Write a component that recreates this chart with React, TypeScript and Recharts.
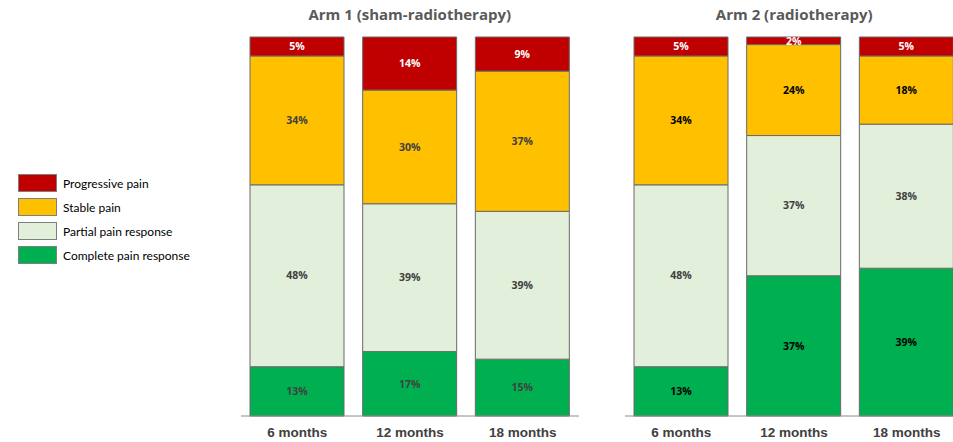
import { BarChart, Bar, XAxis, YAxis, LabelList } from "recharts";

const periods = ["6 months", "12 months", "18 months"];

// Arm 1 (sham-radiotherapy), % of patients
const arm1Progressive = [5, 14, 9];
const arm1Stable = [34, 30, 37];
const arm1Partial = [48, 39, 39];
const arm1Complete = [13, 17, 15];

// Arm 2 (radiotherapy), % of patients
const arm2Progressive = [5, 2, 5];
const arm2Stable = [34, 24, 18];
const arm2Partial = [48, 37, 38];
const arm2Complete = [13, 37, 39];

const series = [
  { key: "complete", name: "Complete pain response", color: "#00B050" },
  { key: "partial", name: "Partial pain response", color: "#E2EFDA" },
  { key: "stable", name: "Stable pain", color: "#FFC000" },
  { key: "progressive", name: "Progressive pain", color: "#C00000" },
];

const buildRows = (complete: number[], partial: number[], stable: number[], progressive: number[]) =>
  periods.map((period, i) => ({
    period,
    complete: complete[i],
    partial: partial[i],
    stable: stable[i],
    progressive: progressive[i],
  }));

const arm1Rows = buildRows(arm1Complete, arm1Partial, arm1Stable, arm1Progressive);
const arm2Rows = buildRows(arm2Complete, arm2Partial, arm2Stable, arm2Progressive);

const arm1LabelColors: Record<string, string> = {
  complete: "#404040",
  partial: "#404040",
  stable: "#404040",
  progressive: "#ffffff",
};
const arm2LabelColors: Record<string, string> = {
  complete: "#000000",
  partial: "#404040",
  stable: "#000000",
  progressive: "#ffffff",
};

const PLOT_W = 338;
const HEIGHT = 442;

function ArmPanel({ title, rows, labelColors, left }: any) {
  return (
    <div style={{ position: "absolute", left, top: 0, width: PLOT_W, height: HEIGHT }}>
      <div
        style={{
          position: "absolute",
          top: 4,
          left: 0,
          width: PLOT_W,
          textAlign: "center",
          fontFamily: "'Open Sans', sans-serif",
          fontWeight: 700,
          fontSize: 15,
          color: "#595959",
          whiteSpace: "nowrap",
        }}
      >
        {title}
      </div>
      <BarChart width={PLOT_W} height={HEIGHT} data={rows} margin={{ top: 37, right: 0, bottom: 0, left: 0 }}>
        <XAxis
          dataKey="period"
          height={26}
          interval={0}
          axisLine={{ stroke: "#8c8c8c", strokeWidth: 1 }}
          tickLine={false}
          tickMargin={5}
          tick={{ fontSize: 13.5, fontWeight: 700, fill: "#404040", fontFamily: "'Liberation Sans', Arial, sans-serif" }}
        />
        <YAxis hide domain={[0, 100]} />
        {series.map((s) => (
          <Bar
            key={s.key}
            dataKey={s.key}
            name={s.name}
            stackId="arm"
            fill={s.color}
            stroke="#6a6a6a"
            strokeWidth={1}
            barSize={94}
            isAnimationActive={false}
          >
            <LabelList
              dataKey={s.key}
              position="center"
              formatter={(v: any) => `${v}%`}
              fill={labelColors[s.key]}
              fontSize={10.5}
              fontWeight={700}
              fontFamily="'Open Sans', sans-serif"
            />
          </Bar>
        ))}
      </BarChart>
    </div>
  );
}

function PainLegend() {
  const items = [...series].reverse();
  return (
    <div style={{ position: "absolute", left: 18, top: 174 }}>
      {items.map((s) => (
        <div key={s.key} style={{ display: "flex", alignItems: "center", height: 24 }}>
          <div
            style={{
              width: 37,
              height: 16,
              background: s.color,
              border: "1px solid #7f7f7f",
              marginTop: -6,
            }}
          />
          <span
            style={{
              marginLeft: 6,
              marginTop: -6,
              fontFamily: "Lato, sans-serif",
              fontSize: 12,
              color: "#000",
              whiteSpace: "nowrap",
            }}
          >
            {s.name}
          </span>
        </div>
      ))}
    </div>
  );
}

export default function App() {
  return (
    <div
      style={{
        position: "absolute",
        left: 0,
        top: 0,
        width: 953,
        height: HEIGHT,
        overflow: "hidden",
        background: "#fff",
      }}
    >
      <PainLegend />
      <ArmPanel title="Arm 1 (sham-radiotherapy)" rows={arm1Rows} labelColors={arm1LabelColors} left={240.75} />
      <ArmPanel title="Arm 2 (radiotherapy)" rows={arm2Rows} labelColors={arm2LabelColors} left={625.25} />
    </div>
  );
}
